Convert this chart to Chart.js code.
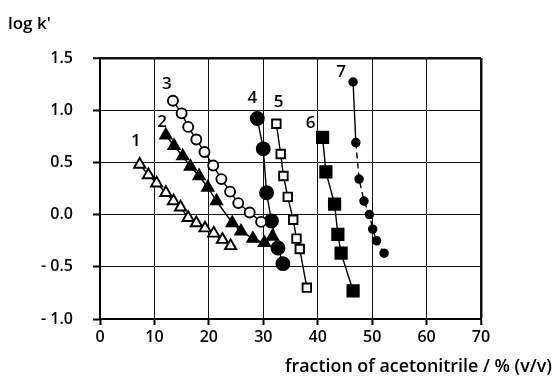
<!DOCTYPE html>
<html>
<head>
<meta charset="utf-8">
<script src="https://cdn.jsdelivr.net/npm/chart.js@4/dist/chart.umd.min.js"></script>
<style>
  html, body { margin: 0; padding: 0; background: #fff; }
  #wrap { width: 553px; height: 376px; }
</style>
</head>
<body>
<div id="wrap"><canvas id="chart" width="553" height="376"></canvas></div>
<script>
// datos (x = % acetonitrilo, y = log k')
const s1x = [7.3, 8.9, 10.4, 12.1, 13.5, 14.8, 16.2, 17.7, 19.3, 20.9, 22.5, 24.0];
const s1y = [0.48, 0.38, 0.30, 0.21, 0.13, 0.07, -0.03, -0.08, -0.13, -0.18, -0.24, -0.30];
const s2x = [12.1, 13.6, 15.2, 16.6, 18.2, 19.8, 21.4, 24.3, 25.9, 28.1, 30.2, 31.7];
const s2y = [0.76, 0.66, 0.56, 0.46, 0.37, 0.26, 0.13, -0.08, -0.16, -0.23, -0.27, -0.21];
const s3x = [13.4, 15.0, 16.2, 17.7, 19.2, 20.8, 22.3, 23.9, 25.4, 27.5, 29.6];
const s3y = [1.09, 0.97, 0.84, 0.72, 0.60, 0.47, 0.34, 0.22, 0.11, 0.02, -0.07];
const s4x = [28.9, 30.0, 30.6, 31.5, 32.7, 33.6];
const s4y = [0.92, 0.63, 0.21, -0.06, -0.32, -0.47];
const s5x = [32.4, 33.2, 33.7, 34.5, 35.5, 36.1, 36.7, 38.0];
const s5y = [0.87, 0.58, 0.37, 0.17, -0.05, -0.23, -0.33, -0.70];
const s6x = [40.9, 41.5, 43.1, 43.7, 44.3, 46.5];
const s6y = [0.74, 0.41, 0.10, -0.19, -0.37, -0.73];
const s7x = [46.5, 47.0, 47.6, 48.5, 49.5, 50.1, 50.8, 52.2];
const s7y = [1.27, 0.69, 0.34, 0.13, 0.00, -0.14, -0.25, -0.37];

const curveNames = ['1', '2', '3', '4', '5', '6', '7'];
const nameX = [6.6, 11.4, 12.3, 28.0, 32.8, 38.7, 44.3];
const nameY = [0.70, 0.89, 1.25, 1.12, 1.08, 0.88, 1.36];

const yTickValues = [1.5, 1.0, 0.5, 0.0, -0.5, -1.0];
const yTickLabels = ['1.5', '1.0', '0.5', '0.0', '- 0.5', '- 1.0'];

const yTitle = "log k'";
const xTitle = 'fraction of acetonitrile / % (v/v)';

const FONT = "'Open Sans', 'DejaVu Sans', sans-serif";

function pts(xs, ys) {
    return xs.map((x, i) => ({ x: x, y: ys[i] }));
}

function serie(xs, ys, style, radius, filled, extra) {
    return Object.assign({
        data: pts(xs, ys),
        showLine: true,
        borderColor: '#000',
        borderWidth: 1.4,
        pointStyle: style,
        pointRadius: radius,
        pointBorderWidth: 1.9,
        pointBorderColor: '#000',
        pointBackgroundColor: filled ? '#000' : '#fff',
        tension: 0
    }, extra || {});
}

// textos: numeros de curva y titulos de ejes
const textPlugin = {
    id: 'textos',
    afterDatasetsDraw(chart) {
        const ctx = chart.ctx;
        const xs = chart.scales.x, ys = chart.scales.y;
        ctx.save();
        ctx.fillStyle = '#000';
        ctx.font = '600 17px ' + FONT;
        ctx.textAlign = 'center';
        ctx.textBaseline = 'middle';
        curveNames.forEach((n, i) => {
            ctx.fillText(n, xs.getPixelForValue(nameX[i]), ys.getPixelForValue(nameY[i]));
        });
        ctx.textAlign = 'left';
        ctx.font = '600 17px ' + FONT;
        ctx.fillText(yTitle, 8, 24);
        ctx.font = '600 18px ' + FONT;
        // ajustar el titulo al ancho que ocupa en la figura
        const w = ctx.measureText(xTitle).width;
        ctx.translate(285, 367);
        ctx.scale(267 / w, 1);
        ctx.fillText(xTitle, 0, 0);
        ctx.restore();
    }
};

const lineW = (edge) => (c) => (c.tick && c.tick.value === edge ? 2.5 : 1);

new Chart(document.getElementById('chart').getContext('2d'), {
    type: 'scatter',
    data: {
        datasets: [
            serie(s1x, s1y, 'triangle', 6.5, false),
            serie(s2x, s2y, 'triangle', 6.5, true),
            serie(s3x, s3y, 'circle', 5, false),
            serie(s4x, s4y, 'circle', 6.5, true),
            serie(s5x, s5y, 'rect', 6, false),
            serie(s6x, s6y, 'rect', 8, true),
            serie(s7x, s7y, 'circle', 3.8, true, {
                segment: { borderDash: c => (c.p0DataIndex >= 1 ? [6, 4] : undefined) }
            })
        ]
    },
    options: {
        responsive: false,
        animation: false,
        layout: { padding: { top: 58, right: 72, left: 0, bottom: 0 } },
        plugins: {
            legend: { display: false },
            tooltip: { enabled: false }
        },
        scales: {
            x: {
                type: 'linear',
                min: 0,
                max: 70,
                afterFit: s => { s.height = 57; },
                ticks: {
                    stepSize: 10,
                    color: '#000',
                    padding: 3,
                    font: { family: FONT, size: 16, weight: '600' }
                },
                grid: {
                    color: '#111',
                    lineWidth: lineW(70),
                    tickLength: 6,
                    tickColor: '#000',
                    tickWidth: 2
                },
                border: { color: '#000', width: 2 }
            },
            y: {
                type: 'linear',
                min: -1.0,
                max: 1.5,
                afterFit: s => { s.width = 100; },
                afterBuildTicks: s => { s.ticks = yTickValues.map(v => ({ value: v })); },
                ticks: {
                    color: '#000',
                    padding: 20,
                    font: { family: FONT, size: 16, weight: '600' },
                    callback: (v) => {
                        const i = yTickValues.findIndex(t => Math.abs(t - v) < 1e-6);
                        return i >= 0 ? yTickLabels[i] : '';
                    }
                },
                grid: {
                    color: '#111',
                    lineWidth: lineW(1.5),
                    tickLength: 7,
                    tickColor: '#000',
                    tickWidth: 2
                },
                border: { color: '#000', width: 2 }
            }
        }
    },
    plugins: [textPlugin]
});
</script>
</body>
</html>
